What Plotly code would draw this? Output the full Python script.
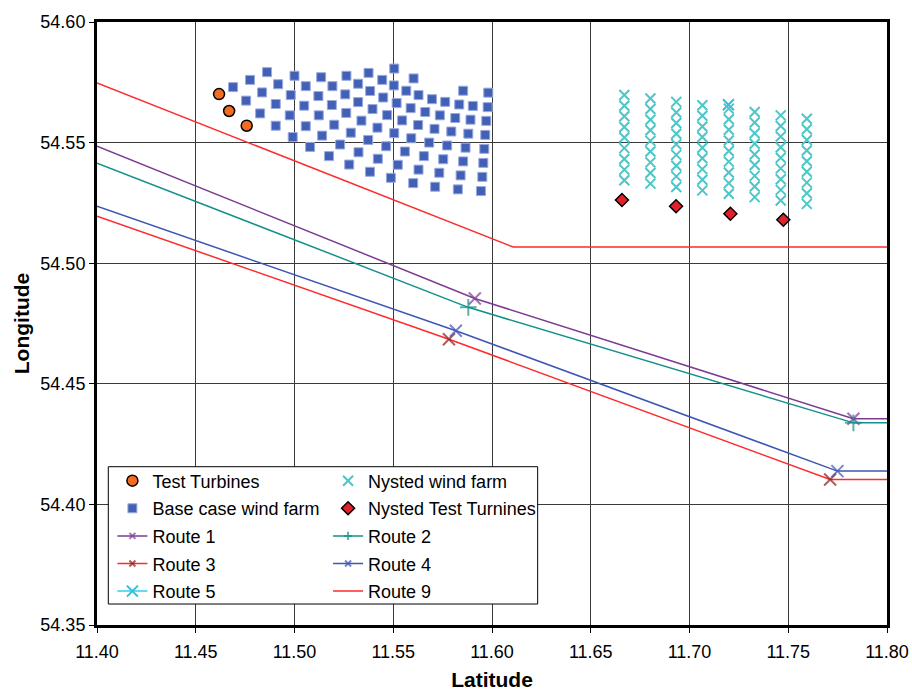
import plotly.graph_objects as go

# ---- turbine positions (longitude, latitude) ----
test_lon = [11.4618, 11.4669, 11.4758]
test_lat = [54.5701, 54.5631, 54.5570]

base_lon = [11.5505, 11.4861, 11.5375, 11.5000, 11.5135, 11.5263, 11.5603, 11.4775,
            11.5444, 11.4917, 11.5057, 11.5192, 11.5322, 11.5503, 11.4689, 11.5383,
            11.5566, 11.5854, 11.5981, 11.4836, 11.4981, 11.5121, 11.5257, 11.5628,
            11.5449, 11.5696, 11.5763, 11.5834, 11.5903, 11.5978, 11.4755, 11.4905,
            11.5049, 11.5189, 11.5322, 11.5517, 11.5588, 11.5395, 11.4826, 11.4976,
            11.5123, 11.5262, 11.5339, 11.5469, 11.5545, 11.5662, 11.5736, 11.5814,
            11.5891, 11.5971, 11.4905, 11.5057, 11.5201, 11.5285, 11.5420, 11.5505,
            11.5626, 11.5709, 11.5794, 11.5880, 11.5966, 11.4991, 11.5140, 11.5373,
            11.5591, 11.5079, 11.5231, 11.5324, 11.5464, 11.5559, 11.5682, 11.5773,
            11.5866, 11.5961, 11.5175, 11.5277, 11.5422, 11.5523, 11.5655, 11.5753,
            11.5854, 11.5956, 11.5382, 11.5488, 11.5628, 11.5601, 11.5733, 11.5841,
            11.5951, 11.5712, 11.5827, 11.5944]
base_lat = [54.5807, 54.5792, 54.5789, 54.5777, 54.5771, 54.5777, 54.5766, 54.5760,
            54.5760, 54.5742, 54.5734, 54.5734, 54.5744, 54.5737, 54.5730, 54.5714,
            54.5715, 54.5715, 54.5707, 54.5708, 54.5697, 54.5693, 54.5700, 54.5697,
            54.5687, 54.5680, 54.5669, 54.5658, 54.5652, 54.5647, 54.5674, 54.5660,
            54.5653, 54.5656, 54.5668, 54.5664, 54.5643, 54.5639, 54.5621, 54.5613,
            54.5613, 54.5623, 54.5591, 54.5614, 54.5592, 54.5627, 54.5613, 54.5602,
            54.5595, 54.5590, 54.5570, 54.5568, 54.5574, 54.5541, 54.5562, 54.5539,
            54.5573, 54.5557, 54.5546, 54.5537, 54.5532, 54.5523, 54.5529, 54.5511,
            54.5518, 54.5482, 54.5492, 54.5460, 54.5485, 54.5463, 54.5500, 54.5488,
            54.5479, 54.5474, 54.5444, 54.5409, 54.5433, 54.5408, 54.5444, 54.5431,
            54.5422, 54.5416, 54.5379, 54.5354, 54.5388, 54.5332, 54.5375, 54.5364,
            54.5358, 54.5317, 54.5306, 54.5299]

# Nysted: 8 rows of 9 turbines
nysted_row_lon = [11.6670, 11.6802, 11.6933, 11.7065, 11.7199, 11.7330, 11.7462, 11.7594]
nysted_row_lat = [
    [54.5697, 54.5653, 54.5609, 54.5565, 54.5521, 54.5477, 54.5432, 54.5388, 54.5344],
    [54.5683, 54.5639, 54.5595, 54.5551, 54.5507, 54.5463, 54.5418, 54.5374, 54.5330],
    [54.5669, 54.5625, 54.5581, 54.5537, 54.5493, 54.5449, 54.5404, 54.5360, 54.5316],
    [54.5655, 54.5611, 54.5567, 54.5523, 54.5479, 54.5435, 54.5390, 54.5346, 54.5302],
    [54.5641, 54.5597, 54.5553, 54.5509, 54.5465, 54.5421, 54.5376, 54.5332, 54.5288],
    [54.5627, 54.5583, 54.5539, 54.5495, 54.5451, 54.5407, 54.5362, 54.5318, 54.5274],
    [54.5613, 54.5569, 54.5525, 54.5481, 54.5437, 54.5393, 54.5348, 54.5304, 54.5260],
    [54.5599, 54.5555, 54.5511, 54.5467, 54.5423, 54.5379, 54.5334, 54.5290, 54.5246],
]

nysted_test_lon = [11.6658, 11.6932, 11.7207, 11.7475]
nysted_test_lat = [54.5262, 54.5236, 54.5205, 54.5180]

# ---- ship routes (waypoints) ----
route1_lon = [11.40, 11.5913, 11.7830, 11.80]
route1_lat = [54.5485, 54.4854, 54.4355, 54.4355]
route2_lon = [11.40, 11.5880, 11.7830, 11.80]
route2_lat = [54.5415, 54.4817, 54.4338, 54.4338]
route3_lon = [11.40, 11.5782, 11.7712, 11.80]
route3_lat = [54.5195, 54.4685, 54.4103, 54.4103]
route4_lon = [11.40, 11.5817, 11.7749, 11.80]
route4_lat = [54.5236, 54.4720, 54.4138, 54.4138]
route5_lon = [11.7197]
route5_lat = [54.5657]
route9_lon = [11.40, 11.6107, 11.80]
route9_lat = [54.5747, 54.5067, 54.5067]

x_ticks = [11.40, 11.45, 11.50, 11.55, 11.60, 11.65, 11.70, 11.75, 11.80]
y_ticks = [54.35, 54.40, 54.45, 54.50, 54.55, 54.60]

FONT = "Arial, 'Liberation Sans', sans-serif"

nysted_lon = [lon for lon, col in zip(nysted_row_lon, nysted_row_lat) for _ in col]
nysted_lat = [lat for col in nysted_row_lat for lat in col]

fig = go.Figure()


def waypoint_sizes(n, size):
    # no marker at the ends that run off the chart
    return [0] + [size] * (n - 2) + [0]


def add_route(name, lon, lat, line_color, marker_color, symbol, legend):
    fig.add_trace(go.Scatter(
        x=lon, y=lat, name=name, mode="lines+markers", legend=legend, legendgroup=name,
        line=dict(color=line_color, width=1.5),
        marker=dict(symbol=symbol, size=waypoint_sizes(len(lon), 12), color=marker_color,
                    line=dict(color=marker_color, width=2)),
    ))


# column 1 of the legend
fig.add_trace(go.Scatter(
    x=test_lon, y=test_lat, name="Test Turbines", mode="markers", legend="legend",
    legendgroup="tt",
    marker=dict(symbol="circle", size=11, color="#F26D21", line=dict(color="black", width=1.5)),
))
fig.add_trace(go.Scatter(
    x=base_lon, y=base_lat, name="Base case wind farm", mode="markers", legend="legend",
    legendgroup="bc",
    marker=dict(symbol="square", size=9, color="#4261B6", line=dict(color="#9AAAE0", width=1)),
))
add_route("Route 1", route1_lon, route1_lat, "#7D3A93", "#7D3A93", "x-thin", "legend")
add_route("Route 3", route3_lon, route3_lat, "#FF2A2A", "#8B1C1C", "x-thin", "legend")
fig.add_trace(go.Scatter(
    x=route5_lon, y=route5_lat, name="Route 5", mode="lines+markers", legend="legend",
    legendgroup="r5",
    line=dict(color="#33CCF2", width=1.5),
    marker=dict(symbol="x-thin", size=11, color="#33BFD8", line=dict(color="#33BFD8", width=2)),
))

# column 2 of the legend
fig.add_trace(go.Scatter(
    x=nysted_lon, y=nysted_lat, name="Nysted wind farm", mode="markers", legend="legend2",
    legendgroup="nw",
    marker=dict(symbol="x-thin", size=10, color="#4CC6C8", line=dict(color="#4CC6C8", width=2)),
))
fig.add_trace(go.Scatter(
    x=nysted_test_lon, y=nysted_test_lat, name="Nysted Test Turnines", mode="markers",
    legend="legend2", legendgroup="nt",
    marker=dict(symbol="diamond", size=10, color="#E4202A", line=dict(color="black", width=1.5)),
))
add_route("Route 2", route2_lon, route2_lat, "#14908A", "#14908A", "cross-thin", "legend2")
add_route("Route 4", route4_lon, route4_lat, "#3F55B3", "#3F55B3", "x-thin", "legend2")
fig.add_trace(go.Scatter(
    x=route9_lon, y=route9_lat, name="Route 9", mode="lines", legend="legend2",
    legendgroup="r9", line=dict(color="#FF2A2A", width=1.5),
))

axis_common = dict(
    showline=True, linecolor="black", linewidth=3, mirror=True,
    showgrid=True, gridcolor="#3a3a3a", gridwidth=1,
    ticks="outside", ticklen=5, tickwidth=1, tickcolor="black",
    tickformat=".2f", zeroline=False, automargin=False,
    tickfont=dict(family=FONT, size=18, color="black"),
)

legend_common = dict(
    bgcolor="rgba(0,0,0,0)", borderwidth=0, yanchor="top", xanchor="left",
    font=dict(family=FONT, size=18, color="black"), tracegroupgap=1.2, itemwidth=30,
)

fig.update_layout(
    width=912, height=691,
    margin=dict(l=97, r=25, t=22, b=66),
    paper_bgcolor="white", plot_bgcolor="white",
    xaxis=dict(range=[11.40, 11.80], tickvals=x_ticks, ticklabelstandoff=3, **axis_common,
               title=dict(text="<b>Latitude</b>", standoff=17,
                          font=dict(family=FONT, size=21, color="black"))),
    yaxis=dict(range=[54.35, 54.60], tickvals=y_ticks, **axis_common,
               title=dict(text="<b>Longitude</b>", standoff=6,
                          font=dict(family=FONT, size=21, color="black"))),
    legend=dict(x=0.0195, y=0.2695, **legend_common),
    legend2=dict(x=0.2925, y=0.2695, **legend_common),
    shapes=[dict(type="rect", xref="paper", yref="paper", layer="above",
                 x0=0.0143, x1=0.5578, y0=0.0348, y1=0.2625,
                 fillcolor="white", line=dict(color="black", width=1))],
)

fig.write_html("out.html")
